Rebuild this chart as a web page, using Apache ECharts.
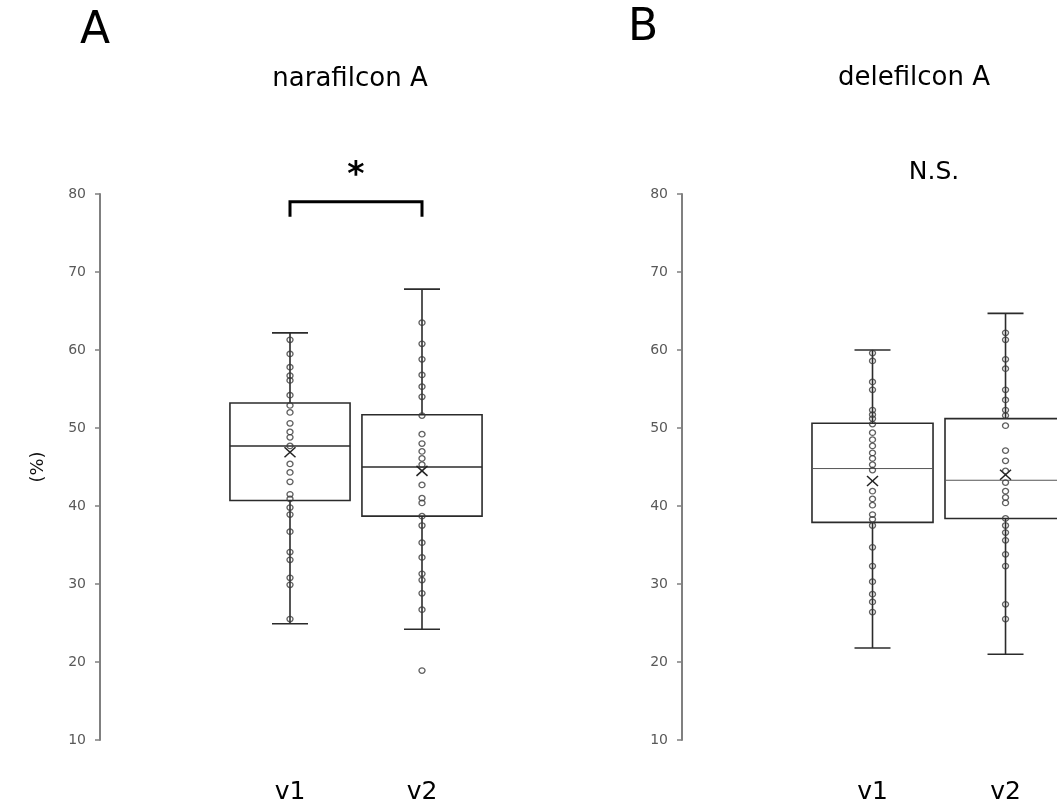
<!DOCTYPE html>
<html>
<head>
<meta charset="utf-8">
<script src="https://cdn.jsdelivr.net/npm/echarts@6/dist/echarts.min.js"></script>
<style>
html, body { margin: 0; padding: 0; background: #fff; }
#main { width: 1057px; height: 811px; }
</style>
</head>
<body>
<div id="main"></div>
<script>
var groups = ['v1', 'v2'];
var yMin = 10, yMax = 80, yStep = 10;

// box stats per visit: [min, Q1, median, Q3, max, mean]
var naraStats = [
    [24.9, 40.7, 47.7, 53.2, 62.2, 46.9],
    [24.2, 38.7, 45.0, 51.7, 67.8, 44.5]
];
var deleStats = [
    [21.8, 37.9, 44.8, 50.6, 60.0, 43.2],
    [21.0, 38.4, 43.3, 51.2, 64.7, 44.0]
];

// individual eyes
var naraV1 = [61.3, 59.5, 57.8, 56.7, 56.1, 54.2, 52.9, 52.0, 50.6, 49.5, 48.8, 47.7, 45.4,
    44.3, 43.1, 41.5, 40.9, 39.8, 38.9, 36.7, 34.1, 33.1, 30.8, 29.9, 25.5];
var naraV2 = [63.5, 60.8, 58.8, 56.8, 55.3, 54.0, 51.6, 49.2, 48.0, 47.0, 46.1, 45.3, 42.7,
    41.0, 40.4, 38.7, 37.5, 35.3, 33.4, 31.3, 30.5, 28.8, 26.7, 18.9];
var deleV1 = [59.6, 58.6, 55.9, 54.9, 52.3, 51.7, 51.2, 50.5, 49.4, 48.5, 47.7, 46.8, 46.1,
    45.3, 44.6, 41.9, 40.9, 40.1, 38.9, 38.3, 37.5, 34.7, 32.3, 30.3, 28.7, 27.7, 26.4];
var deleV2 = [62.2, 61.3, 58.8, 57.6, 54.9, 53.6, 52.3, 51.6, 50.3, 47.1, 45.8, 44.5, 43.0,
    41.9, 41.1, 40.4, 38.4, 37.5, 36.6, 35.6, 33.8, 32.3, 27.4, 25.5];

var FONT = '"DejaVu Sans", "Liberation Sans", sans-serif';

function boxData(stats) {
    return stats.map(function (s, i) { return [i].concat(s); });
}
function pointData(a, b) {
    var out = [];
    a.forEach(function (v) { out.push([0, v]); });
    b.forEach(function (v) { out.push([1, v]); });
    return out;
}

function boxItem(medianWidth, medianColor) {
    return function (params, api) {
        var i = api.value(0);
        var unit = api.size([1, 0])[0];
        var half = unit * 0.455, cap = 18;
        function p(k) { return api.coord([i, api.value(k)]); }
        var lo = p(1), q1 = p(2), md = p(3), q3 = p(4), hi = p(5), mn = p(6);
        var x = lo[0];
        var ln = { stroke: '#2b2b2b', lineWidth: 1.6, fill: 'none' };
        return {
            type: 'group',
            children: [
                { type: 'line', shape: { x1: x, y1: hi[1], x2: x, y2: q3[1] }, style: ln },
                { type: 'line', shape: { x1: x, y1: q1[1], x2: x, y2: lo[1] }, style: ln },
                { type: 'line', shape: { x1: x - cap, y1: hi[1], x2: x + cap, y2: hi[1] }, style: ln },
                { type: 'line', shape: { x1: x - cap, y1: lo[1], x2: x + cap, y2: lo[1] }, style: ln },
                { type: 'rect', shape: { x: x - half, y: q3[1], width: half * 2, height: q1[1] - q3[1] }, style: ln },
                { type: 'line', shape: { x1: x - half, y1: md[1], x2: x + half, y2: md[1] },
                  style: { stroke: medianColor, lineWidth: medianWidth } },
                { type: 'line', shape: { x1: mn[0] - 5.5, y1: mn[1] - 5, x2: mn[0] + 5.5, y2: mn[1] + 5 },
                  style: { stroke: '#222', lineWidth: 1.5 } },
                { type: 'line', shape: { x1: mn[0] - 5.5, y1: mn[1] + 5, x2: mn[0] + 5.5, y2: mn[1] - 5 },
                  style: { stroke: '#222', lineWidth: 1.5 } }
            ]
        };
    };
}

function yAxisOf(gridIndex, withName) {
    return {
        type: 'value',
        gridIndex: gridIndex,
        position: 'left',
        min: yMin,
        max: yMax,
        interval: yStep,
        offset: 124,
        name: withName ? '(%)' : '',
        nameLocation: 'middle',
        nameRotate: 90,
        nameGap: 53,
        nameTextStyle: { fontFamily: FONT, fontSize: 18, color: '#111' },
        axisLine: { show: true, onZero: false, lineStyle: { color: '#808080', width: 2 } },
        axisTick: { show: true, length: 5, lineStyle: { color: '#808080', width: 1.5 } },
        axisLabel: { color: '#595959', fontFamily: FONT, fontSize: 14, margin: 14 },
        splitLine: { show: false }
    };
}

// value x axis: visit i sits at x = i
function xAxisOf(gridIndex, xmax) {
    return {
        type: 'value',
        gridIndex: gridIndex,
        min: -0.5,
        max: xmax,
        axisLine: { show: false, onZero: false },
        axisTick: { show: false },
        splitLine: { show: false },
        axisLabel: {
            customValues: [0, 1],
            formatter: function (v) { return groups[Math.round(v)] || ''; },
            color: '#000', fontFamily: FONT, fontSize: 25, margin: 40
        }
    };
}

function textEl(str, x, y, size, weight) {
    return {
        type: 'text', x: x, y: y, silent: true,
        style: {
            text: str, fill: '#000',
            font: (weight || 'normal') + ' ' + size + 'px ' + FONT,
            align: 'center', verticalAlign: 'middle',
            textAlign: 'center', textVerticalAlign: 'middle'
        }
    };
}

var myChart = echarts.init(document.getElementById('main'));

var option = {
    animation: false,
    backgroundColor: '#fff',
    grid: [
        { left: 224, top: 194, width: 264, height: 546 },
        { left: 806, top: 194, width: 251, height: 546 }
    ],
    xAxis: [xAxisOf(0, 1.5), xAxisOf(1, 1.387)],
    yAxis: [yAxisOf(0, true), yAxisOf(1, false)],
    series: [
        {
            type: 'custom', xAxisIndex: 0, yAxisIndex: 0,
            renderItem: boxItem(1.6, '#2b2b2b'),
            encode: { x: 0, y: [1, 2, 3, 4, 5, 6] },
            data: boxData(naraStats), z: 2
        },
        {
            type: 'custom', xAxisIndex: 1, yAxisIndex: 1,
            renderItem: boxItem(1, '#555'),
            encode: { x: 0, y: [1, 2, 3, 4, 5, 6] },
            data: boxData(deleStats), z: 2
        },
        {
            type: 'scatter', xAxisIndex: 0, yAxisIndex: 0,
            symbol: 'circle', symbolSize: [6, 5.5],
            itemStyle: { color: 'transparent', borderColor: '#3a3a3a', borderWidth: 1.3 },
            data: pointData(naraV1, naraV2), z: 3
        },
        {
            type: 'scatter', xAxisIndex: 1, yAxisIndex: 1,
            symbol: 'circle', symbolSize: [6, 5.5],
            itemStyle: { color: 'transparent', borderColor: '#3a3a3a', borderWidth: 1.3 },
            data: pointData(deleV1, deleV2), z: 3
        }
    ]
};

myChart.setOption(option);

// significance bracket between v1 and v2 of panel A
var bl = myChart.convertToPixel({ xAxisIndex: 0, yAxisIndex: 0 }, [0, 79]);
var br = myChart.convertToPixel({ xAxisIndex: 0, yAxisIndex: 0 }, [1, 79]);
var drop = 15;

myChart.setOption({
    graphic: [
        textEl('A', 95, 32, 44),
        textEl('B', 643, 29, 44),
        textEl('narafilcon A', 350, 79, 26),
        textEl('delefilcon A', 914, 78, 26),
        textEl('*', (bl[0] + br[0]) / 2, 176, 33, 'bold'),
        textEl('N.S.', 934, 172, 25),
        {
            type: 'polyline', silent: true,
            shape: { points: [[bl[0], bl[1] + drop], [bl[0], bl[1]], [br[0], br[1]], [br[0], br[1] + drop]] },
            style: { stroke: '#000', lineWidth: 3, fill: 'none' }
        }
    ]
});
</script>
</body>
</html>
